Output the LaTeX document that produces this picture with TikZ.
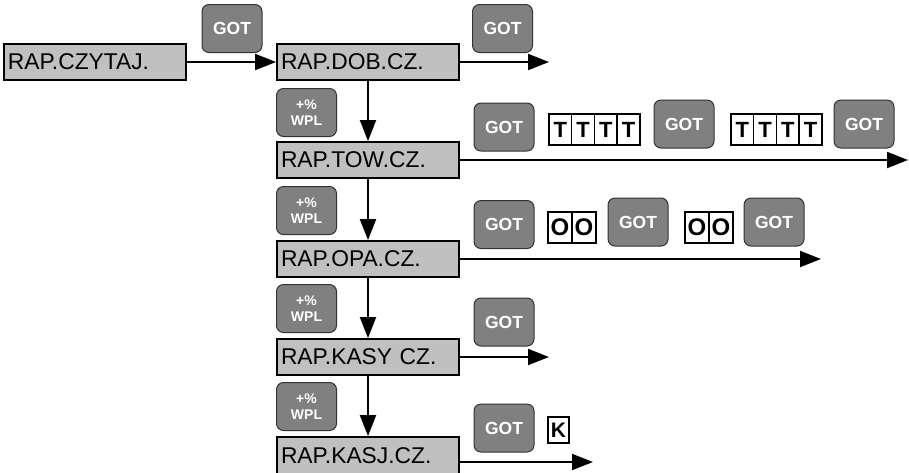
\documentclass[tikz,border=0pt]{standalone}
\usepackage{fontspec}
\setmainfont{Liberation Sans}
\usetikzlibrary{arrows.meta}
\definecolor{boxGray}{HTML}{C0C0C0}
\definecolor{keyGray}{HTML}{808080}
\definecolor{keyBorder}{HTML}{333333}
\tikzset{
    REPORT_BOX/.style={draw=black, fill=boxGray, shape=rectangle,
        line width=1.8pt, minimum height=36pt, text width=174pt,
        inner xsep=4pt, inner ysep=0pt, align=left,
        font={\fontsize{22.8}{25}\selectfont}},
    KEY/.style={draw=keyBorder, fill=keyGray, shape=rectangle,
        rounded corners=7pt, minimum width=60pt, minimum height=48pt,
        inner sep=0pt, line width=1pt, text=white, align=center,
        font={\fontsize{17.5}{18}\selectfont\bfseries}},
    PLUS_KEY/.style={KEY, font={\fontsize{14}{15.5}\selectfont\bfseries}},
    CELL/.style={draw=black, fill=white, shape=rectangle, line width=1.5pt,
        minimum width=22.75pt, minimum height=31pt, inner sep=0pt,
        font={\fontsize{22}{22}\selectfont\bfseries}},
    O_CELL/.style={CELL, minimum width=24pt,
        font={\fontsize{24}{24}\selectfont\bfseries}},
    K_CELL/.style={CELL, minimum width=21pt, minimum height=26pt,
        font={\fontsize{21}{21}\selectfont\bfseries}},
    EDGE/.style={draw=black, line width=2pt,
        -{Triangle[length=21pt, width=16pt]}}
}
\pgfdeclarelayer{edgelayer}
\pgfdeclarelayer{nodelayer}
\pgfsetlayers{edgelayer,nodelayer,main}
\begin{document}
\begin{tikzpicture}[x=1pt, y=-1pt]
    \useasboundingbox (0,0) rectangle (909,472);
    \begin{pgfonlayer}{nodelayer}
        \node [REPORT_BOX] (1) at (95,62) {RAP.CZYTAJ.};
        \node [REPORT_BOX] (2) at (368,62) {RAP.DOB.CZ.};
        \node [REPORT_BOX] (3) at (368,160) {RAP.TOW.CZ.};
        \node [REPORT_BOX] (4) at (368,259) {RAP.OPA.CZ.};
        \node [REPORT_BOX] (5) at (368,357) {RAP.KASY CZ.};
        \node [REPORT_BOX, minimum height=38pt] (6) at (368,456) {RAP.KASJ.CZ.};
        % first row
        \node [KEY] (7) at (232,28.5) {GOT};
        \node [KEY] (8) at (502.5,28.5) {GOT};
        % second row
        \node [PLUS_KEY] (9) at (306.5,112.5) {+\%\\WPL};
        \node [KEY] (10) at (504,127) {GOT};
        \node [CELL] (11) at (560.4,129.5) {T};
        \node [CELL] (12) at (583.1,129.5) {T};
        \node [CELL] (13) at (605.9,129.5) {T};
        \node [CELL] (14) at (628.6,129.5) {T};
        \node [KEY] (15) at (684,124) {GOT};
        \node [CELL] (16) at (742.4,129.5) {T};
        \node [CELL] (17) at (765.1,129.5) {T};
        \node [CELL] (18) at (787.9,129.5) {T};
        \node [CELL] (19) at (810.6,129.5) {T};
        \node [KEY] (20) at (864,124) {GOT};
        % third row
        \node [PLUS_KEY] (21) at (306.5,210.5) {+\%\\WPL};
        \node [KEY] (22) at (504,224.5) {GOT};
        \node [O_CELL] (23) at (560,227.5) {O};
        \node [O_CELL] (24) at (584,227.5) {O};
        \node [KEY] (25) at (638,222) {GOT};
        \node [O_CELL] (26) at (697,227.5) {O};
        \node [O_CELL] (27) at (721,227.5) {O};
        \node [KEY] (28) at (774,222) {GOT};
        % fourth row
        \node [PLUS_KEY] (29) at (306.5,308.5) {+\%\\WPL};
        \node [KEY] (30) at (504,322) {GOT};
        % fifth row
        \node [PLUS_KEY] (31) at (306.5,406.5) {+\%\\WPL};
        \node [KEY] (32) at (504,428) {GOT};
        \node [K_CELL] (33) at (558.5,430) {K};
        % arrow ends
        \coordinate (34) at (549,62);
        \coordinate (35) at (908,160);
        \coordinate (36) at (821,259);
        \coordinate (37) at (549,357);
        \coordinate (38) at (593,462);
    \end{pgfonlayer}
    \begin{pgfonlayer}{edgelayer}
        \draw[EDGE] (1) to (2);
        \draw[EDGE] (2) to (34);
        \draw[EDGE] (2) to (3);
        \draw[EDGE] (3) to (35);
        \draw[EDGE] (3) to (4);
        \draw[EDGE] (4) to (36);
        \draw[EDGE] (4) to (5);
        \draw[EDGE] (5) to (37);
        \draw[EDGE] (5) to (6);
        \draw[EDGE] (6.east |- 38) to (38);
    \end{pgfonlayer}
\end{tikzpicture}
\end{document}
